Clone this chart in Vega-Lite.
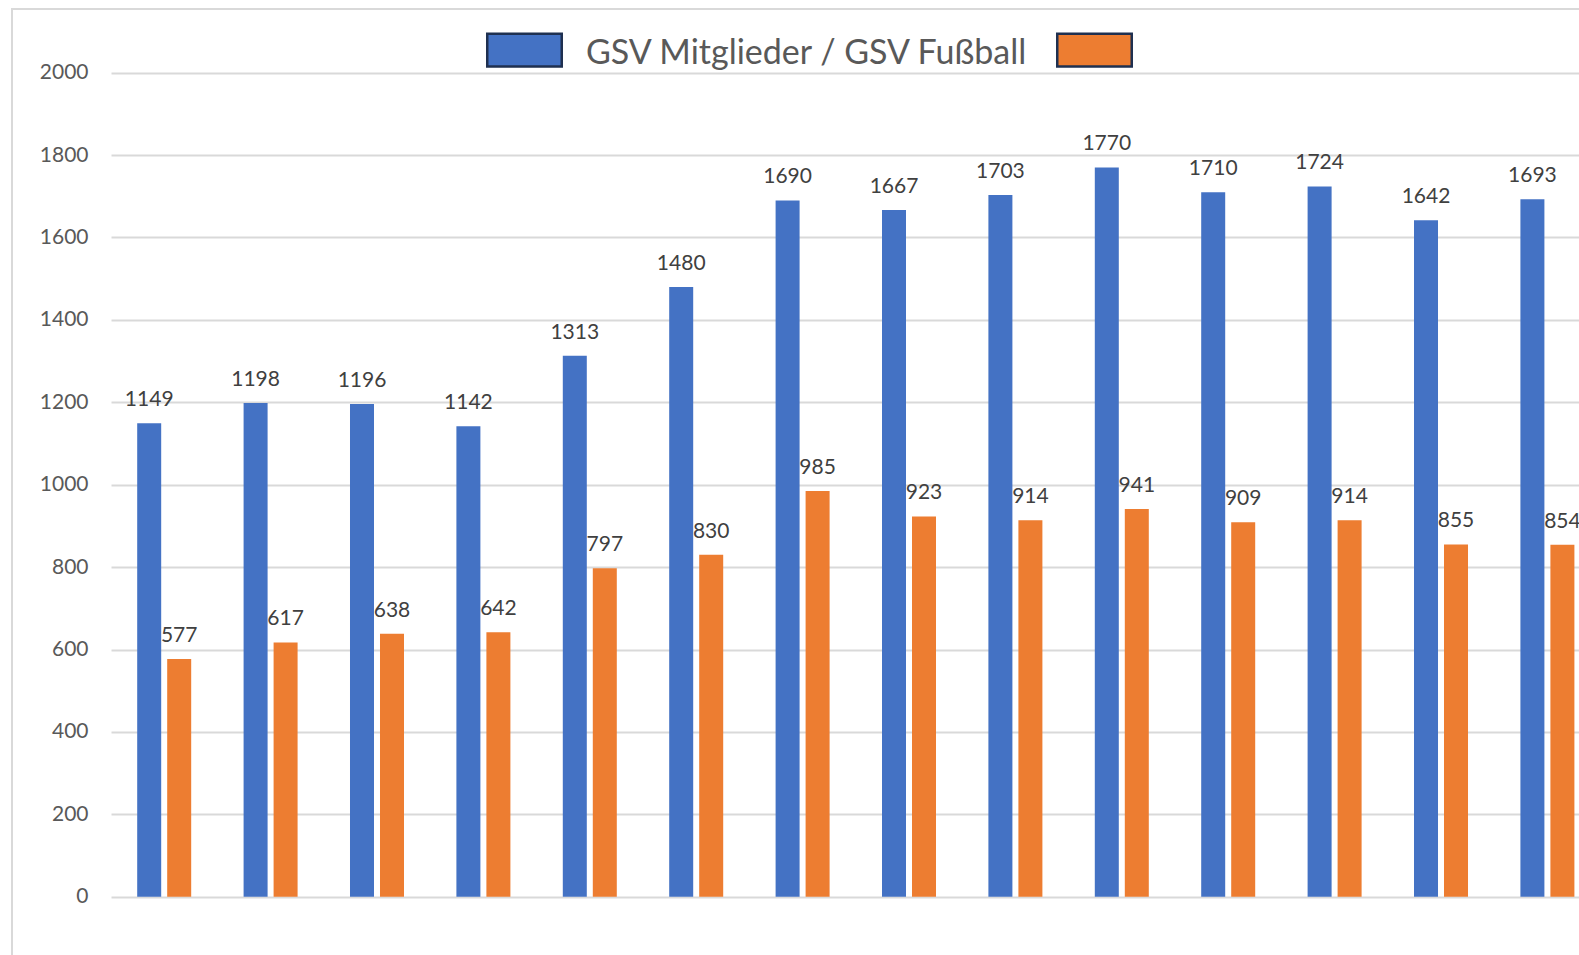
{
  "$schema": "https://vega.github.io/schema/vega-lite/v6.json",
  "usermeta": {"embedOptions": {"actions": false}},
  "autosize": "none",
  "padding": {"left": 12, "top": 9, "right": -3, "bottom": -3},
  "width": 1570,
  "height": 949,
  "background": "white",
  "config": {
    "view": {"stroke": "#d9d9d9", "strokeWidth": 2},
    "font": "Lato"
  },
  "data": {
    "values": [
      {"nr": 1, "reihe": "Mitglieder", "anzahl": 1149},
      {"nr": 1, "reihe": "Fußball", "anzahl": 577},
      {"nr": 2, "reihe": "Mitglieder", "anzahl": 1198},
      {"nr": 2, "reihe": "Fußball", "anzahl": 617},
      {"nr": 3, "reihe": "Mitglieder", "anzahl": 1196},
      {"nr": 3, "reihe": "Fußball", "anzahl": 638},
      {"nr": 4, "reihe": "Mitglieder", "anzahl": 1142},
      {"nr": 4, "reihe": "Fußball", "anzahl": 642},
      {"nr": 5, "reihe": "Mitglieder", "anzahl": 1313},
      {"nr": 5, "reihe": "Fußball", "anzahl": 797},
      {"nr": 6, "reihe": "Mitglieder", "anzahl": 1480},
      {"nr": 6, "reihe": "Fußball", "anzahl": 830},
      {"nr": 7, "reihe": "Mitglieder", "anzahl": 1690},
      {"nr": 7, "reihe": "Fußball", "anzahl": 985},
      {"nr": 8, "reihe": "Mitglieder", "anzahl": 1667},
      {"nr": 8, "reihe": "Fußball", "anzahl": 923},
      {"nr": 9, "reihe": "Mitglieder", "anzahl": 1703},
      {"nr": 9, "reihe": "Fußball", "anzahl": 914},
      {"nr": 10, "reihe": "Mitglieder", "anzahl": 1770},
      {"nr": 10, "reihe": "Fußball", "anzahl": 941},
      {"nr": 11, "reihe": "Mitglieder", "anzahl": 1710},
      {"nr": 11, "reihe": "Fußball", "anzahl": 909},
      {"nr": 12, "reihe": "Mitglieder", "anzahl": 1724},
      {"nr": 12, "reihe": "Fußball", "anzahl": 914},
      {"nr": 13, "reihe": "Mitglieder", "anzahl": 1642},
      {"nr": 13, "reihe": "Fußball", "anzahl": 855},
      {"nr": 14, "reihe": "Mitglieder", "anzahl": 1693},
      {"nr": 14, "reihe": "Fußball", "anzahl": 854}
    ]
  },
  "encoding": {
    "x": {
      "field": "nr",
      "type": "ordinal",
      "axis": null,
      "scale": {"range": [99, 1588.6], "paddingInner": 0.4361, "paddingOuter": 0.218}
    },
    "xOffset": {
      "field": "reihe",
      "type": "nominal",
      "sort": ["Mitglieder", "Fußball"],
      "scale": {"paddingInner": 0.2, "paddingOuter": 0.1}
    },
    "y": {
      "field": "anzahl",
      "type": "quantitative",
      "scale": {"domain": [0, 2000], "range": [887.7, 63.7], "nice": false},
      "axis": {
        "title": null,
        "offset": -99,
        "domain": false,
        "ticks": false,
        "labelPadding": 23,
        "values": [0, 200, 400, 600, 800, 1000, 1200, 1400, 1600, 1800, 2000],
        "format": "d",
        "grid": true,
        "gridColor": "#d9d9d9",
        "gridWidth": 2,
        "labelFont": "Lato",
        "labelFontSize": 21,
        "labelColor": "#595959"
      }
    }
  },
  "layer": [
    {
      "mark": {"type": "bar"},
      "encoding": {
        "color": {
          "field": "reihe",
          "type": "nominal",
          "sort": ["Mitglieder", "Fußball"],
          "scale": {"domain": ["Mitglieder", "Fußball"], "range": ["#4472C4", "#ED7D31"]},
          "legend": {
            "orient": "none",
            "legendX": 474,
            "legendY": 2.5,
            "direction": "horizontal",
            "title": null,
            "padding": 0,
            "symbolType": "M-1,-0.44L1,-0.44L1,0.44L-1,0.44Z",
            "symbolSize": 5550,
            "symbolOpacity": 1,
            "labelExpr": "datum.value == 'Mitglieder' ? 'GSV Mitglieder / GSV Fußball' : ''",
            "labelFont": "Lato",
            "labelFontSize": 34,
            "labelColor": "#595959",
            "labelOffset": 23,
            "columnPadding": 22,
            "labelLimit": 900,
            "encode": {
              "symbols": {
                "update": {
                  "stroke": {"value": "#1f3050"},
                  "strokeWidth": {"value": 2.5}
                }
              },
              "labels": {
                "update": {"dy": {"value": 4}}
              }
            }
          }
        }
      }
    },
    {
      "mark": {
        "type": "text",
        "dy": -17,
        "baseline": "alphabetic",
        "align": "center",
        "font": "Lato",
        "fontSize": 21,
        "color": "#404040"
      },
      "encoding": {
        "text": {"field": "anzahl", "type": "quantitative", "format": "d"}
      }
    }
  ]
}
